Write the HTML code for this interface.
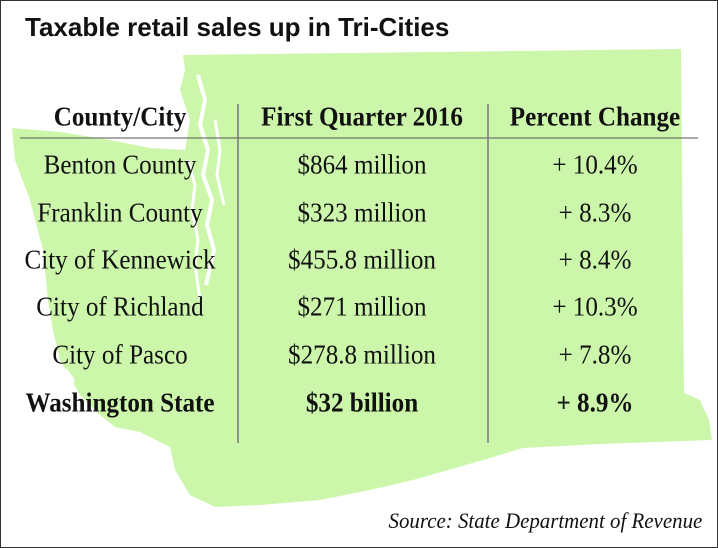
<!DOCTYPE html>
<html><head><style>
body{margin:0;width:718px;height:548px;background:#fff;overflow:hidden;position:relative;font-family:"Liberation Serif",serif}
.frame{position:absolute;left:0;top:0;width:716px;height:546px;border:1px solid #333}
.t{position:absolute;white-space:nowrap;transform:translate(-50%,-50%) scaleX(0.93);font-size:27px;color:#111}
.b{font-weight:bold}
</style></head><body>
<svg width="718" height="548" style="position:absolute;left:0;top:0">
<polygon fill="#ccf7ab" points="183,55 681,49 684,393 700,400 709,420 712,440 600,444 523,448 490,458 459,467 413,480 370,490 320,500 260,505 215,507 190,495 175,470 170,447 140,432 115,427 100,415 80,395 70,377 60,360 53,330 48,300 43,250 30,200 15,160 12,128 60,132 110,140 150,148 185,150 190,120 180,90 185,70"/>
<path d="M198,75 L205,100 L200,125 L208,150 L203,175 L212,200 L207,225 L214,250 L206,285" stroke="#fff" stroke-width="4" fill="none"/>
<path d="M188,160 L195,185 L192,210 L198,240 L195,265 L200,300" stroke="#fff" stroke-width="3" fill="none"/>
<path d="M215,120 L220,150 L217,175 L224,205" stroke="#fff" stroke-width="3" fill="none"/>
<path d="M65,370 L72,380 L68,392" stroke="#fff" stroke-width="5" fill="none"/>
<line x1="20" y1="138" x2="698" y2="138" stroke="#555" stroke-width="1"/>
<line x1="238" y1="104" x2="238" y2="443" stroke="#777" stroke-width="1.5"/>
<line x1="488" y1="104" x2="488" y2="443" stroke="#777" stroke-width="1.5"/>
</svg>
<div class="frame"></div>
<div style="position:absolute;left:25px;top:12px;font:bold 26px 'Liberation Sans',sans-serif;color:#111;white-space:nowrap">Taxable retail sales up in Tri-Cities</div>
<div class="t b" style="left:120px;top:117px">County/City</div>
<div class="t b" style="left:362px;top:117px">First Quarter 2016</div>
<div class="t b" style="left:595px;top:117px">Percent Change</div>
<div class="t" style="left:120px;top:165px">Benton County</div>
<div class="t" style="left:362px;top:165px">$864 million</div>
<div class="t" style="left:595px;top:165px">+ 10.4%</div>
<div class="t" style="left:120px;top:213px">Franklin County</div>
<div class="t" style="left:362px;top:213px">$323 million</div>
<div class="t" style="left:595px;top:213px">+ 8.3%</div>
<div class="t" style="left:120px;top:260px">City of Kennewick</div>
<div class="t" style="left:362px;top:260px">$455.8 million</div>
<div class="t" style="left:595px;top:260px">+ 8.4%</div>
<div class="t" style="left:120px;top:307px">City of Richland</div>
<div class="t" style="left:362px;top:307px">$271 million</div>
<div class="t" style="left:595px;top:307px">+ 10.3%</div>
<div class="t" style="left:120px;top:355px">City of Pasco</div>
<div class="t" style="left:362px;top:355px">$278.8 million</div>
<div class="t" style="left:595px;top:355px">+ 7.8%</div>
<div class="t b" style="left:120px;top:403px">Washington State</div>
<div class="t b" style="left:362px;top:403px">$32 billion</div>
<div class="t b" style="left:595px;top:403px">+ 8.9%</div>
<div style="position:absolute;right:16px;top:508px;font-style:italic;font-size:22px;color:#111;white-space:nowrap;transform:scaleX(0.95);transform-origin:right">Source: State Department of Revenue</div>
</body></html>
